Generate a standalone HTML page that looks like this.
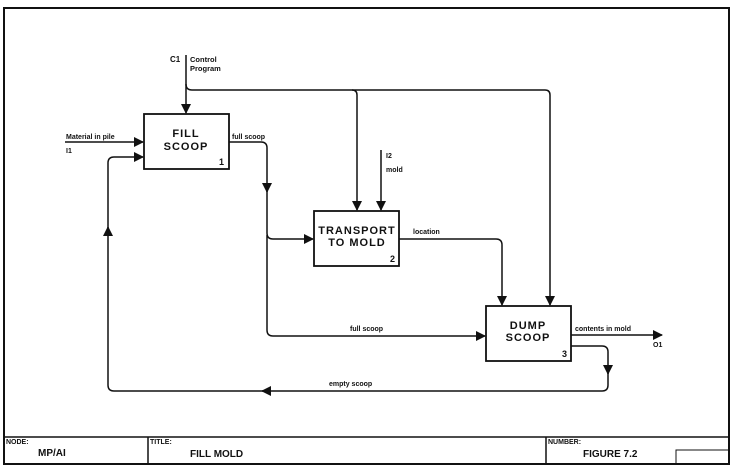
<!DOCTYPE html>
<html><head><meta charset="utf-8"><style>
html,body{margin:0;padding:0;background:#fff;}
svg{display:block;}
text{font-family:"Liberation Sans",sans-serif;font-weight:bold;fill:#111;}
</style></head><body>
<svg width="738" height="469" viewBox="0 0 738 469" xmlns="http://www.w3.org/2000/svg">
<defs>
<marker id="a" markerWidth="10" markerHeight="10" refX="9" refY="5" orient="auto" markerUnits="userSpaceOnUse"><path d="M0,0 L10,5 L0,10 z" fill="#111"/></marker>
</defs>
<g fill="none" stroke="#111">
<rect x="4" y="8" width="725" height="456" stroke-width="2"/>
<line x1="4" y1="437" x2="729" y2="437" stroke-width="1.5"/>
<line x1="148" y1="437" x2="148" y2="464" stroke-width="1.5"/>
<line x1="546" y1="437" x2="546" y2="464" stroke-width="1.5"/>
<rect x="676" y="450" width="53" height="14" stroke-width="1"/>
<rect x="144" y="114" width="85" height="55" stroke-width="1.8"/>
<rect x="314" y="211" width="85" height="55" stroke-width="1.8"/>
<rect x="486" y="306" width="85" height="55" stroke-width="1.8"/>
<g stroke-width="1.5">
<path d="M186,55 L186,113" marker-end="url(#a)"/>
<path d="M186,84 Q186,90 192,90 L352,90 Q357,90 357,95 L357,210" marker-end="url(#a)"/>
<path d="M352,90 L545,90 Q550,90 550,95 L550,305" marker-end="url(#a)"/>
<path d="M381,150 L381,210" marker-end="url(#a)"/>
<path d="M65,142 L143,142" marker-end="url(#a)"/>
<path d="M229,142 L261,142 Q267,142 267,148 L267,192" marker-end="url(#a)"/>
<path d="M267,185 L267,233 Q267,239 273,239 L313,239" marker-end="url(#a)"/>
<path d="M267,235 L267,330 Q267,336 273,336 L485,336" marker-end="url(#a)"/>
<path d="M399,239 L496,239 Q502,239 502,245 L502,305" marker-end="url(#a)"/>
<path d="M571,335 L662,335" marker-end="url(#a)"/>
<path d="M571,346 L602,346 Q608,346 608,352 L608,374" marker-end="url(#a)"/>
<path d="M608,370 L608,385 Q608,391 602,391 L262,391" marker-end="url(#a)"/>
<path d="M266,391 L114,391 Q108,391 108,385 L108,227" marker-end="url(#a)"/>
<path d="M108,233 L108,163 Q108,157 114,157 L143,157" marker-end="url(#a)"/>
</g>
</g>
<text x="186" y="137" font-size="11" text-anchor="middle" letter-spacing="1">FILL</text>
<text x="186" y="150" font-size="11" text-anchor="middle" letter-spacing="1">SCOOP</text>
<text x="224" y="165" font-size="9" text-anchor="end">1</text>
<text x="357" y="234" font-size="11" text-anchor="middle" letter-spacing="1">TRANSPORT</text>
<text x="357" y="246" font-size="11" text-anchor="middle" letter-spacing="1">TO MOLD</text>
<text x="395" y="262" font-size="9" text-anchor="end">2</text>
<text x="528" y="329" font-size="11" text-anchor="middle" letter-spacing="1">DUMP</text>
<text x="528" y="341" font-size="11" text-anchor="middle" letter-spacing="1">SCOOP</text>
<text x="567" y="357" font-size="9" text-anchor="end">3</text>
<text x="170" y="62" font-size="8">C1</text>
<text x="190" y="62" font-size="7.5" font-weight="normal">Control</text>
<text x="190" y="71" font-size="7.5" font-weight="normal">Program</text>
<text x="66" y="139" font-size="7">Material in pile</text>
<text x="66" y="153" font-size="7">I1</text>
<text x="232" y="139" font-size="7">full scoop</text>
<text x="386" y="158" font-size="7">I2</text>
<text x="386" y="172" font-size="7">mold</text>
<text x="413" y="234" font-size="7">location</text>
<text x="350" y="331" font-size="7">full scoop</text>
<text x="575" y="331" font-size="7">contents in mold</text>
<text x="653" y="347" font-size="7">O1</text>
<text x="329" y="386" font-size="7">empty scoop</text>
<text x="6" y="444" font-size="7">NODE:</text>
<text x="38" y="456" font-size="10">MP/AI</text>
<text x="150" y="444" font-size="7">TITLE:</text>
<text x="190" y="457" font-size="10">FILL MOLD</text>
<text x="548" y="444" font-size="7">NUMBER:</text>
<text x="583" y="457" font-size="10">FIGURE 7.2</text>
</svg>
</body></html>
